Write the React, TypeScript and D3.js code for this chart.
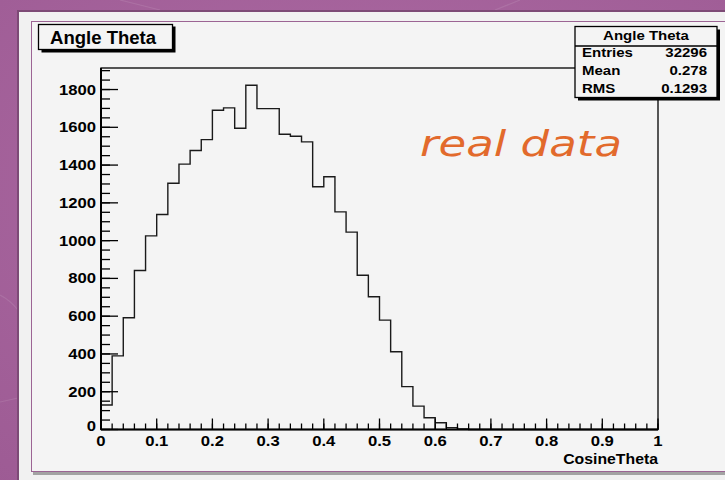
// App.tsx
import React from 'react';
import * as d3 from 'd3';

// histogram bin contents, 50 bins of width 0.02 over [0, 1]
const counts: number[] = [
    130, 390, 592, 842, 1025, 1138, 1304, 1405, 1477, 1535,
    1690, 1703, 1595, 1823, 1699, 1699, 1563, 1553, 1523, 1285,
    1338, 1152, 1045, 817, 703, 579, 412, 227, 124, 62,
    36, 10, 3, 0, 0, 0, 0, 0, 0, 0,
    0, 0, 0, 0, 0, 0, 0, 0, 0, 0,
];
const binWidth = 0.02;

const xTicks: number[] = [0, 0.1, 0.2, 0.3, 0.4, 0.5, 0.6, 0.7, 0.8, 0.9, 1];
const xTickLabels: string[] = ['0', '0.1', '0.2', '0.3', '0.4', '0.5', '0.6', '0.7', '0.8', '0.9', '1'];
const yTicks: number[] = [0, 200, 400, 600, 800, 1000, 1200, 1400, 1600, 1800];

const statLabels: string[] = ['Entries', 'Mean', 'RMS'];
const statValues: string[] = ['32296', '0.278', '0.1293'];

const title = 'Angle Theta';
const xTitle = 'CosineTheta';
const note = 'real data';

const W = 725;
const H = 480;
const frame = { left: 101, right: 658, top: 68, bottom: 429.5 };
const yMax = 1914;
const font = '"Liberation Sans", Arial, Helvetica, sans-serif';

// bold helvetica-like text, optionally stretched horizontally
function T({ x, y, size, sx = 1, anchor = 'start', children }:
    { x: number; y: number; size: number; sx?: number; anchor?: string; children: React.ReactNode }) {
    return (
        <text transform={`translate(${x},${y}) scale(${sx},1)`} fontFamily={font} fontWeight="bold"
            fontSize={size} textAnchor={anchor} fill="#000">{children}</text>
    );
}

export default function App() {
    const x = d3.scaleLinear().domain([0, 1]).range([frame.left, frame.right]);
    const y = d3.scaleLinear().domain([0, yMax]).range([frame.bottom, frame.top]);

    // step outline of the histogram
    const pts: [number, number][] = [[0, 0]];
    counts.forEach((c, i) => {
        pts.push([i * binWidth, c]);
        pts.push([(i + 1) * binWidth, c]);
    });
    pts.push([1, 0]);
    const line = d3.line<[number, number]>().x(d => x(d[0])).y(d => y(d[1]));

    const xMinor = d3.range(0, 1.0001, 0.02);
    const yMinor = d3.range(0, yMax, 50);

    return (
        <svg width={W} height={H} style={{ position: 'absolute', left: 0, top: 0 }}>
            <defs>
                <radialGradient id="bg" cx="0.5" cy="0.4" r="0.8">
                    <stop offset="0" stopColor="#ad6aa3" />
                    <stop offset="1" stopColor="#9d5b94" />
                </radialGradient>
            </defs>
            <rect width={W} height={H} fill="url(#bg)" />
            {/* faint streaks in the backdrop */}
            <g stroke="#ffffff" strokeOpacity={0.1} strokeWidth={1.2} fill="none">
                <path d="M0,295 Q10,300 18,310" />
                <path d="M0,402 Q9,400 18,398" />
                <path d="M120,0 L160,10" />
                <path d="M520,0 L495,10" />
            </g>

            {/* canvas panel */}
            <rect x={17} y={10} width={W} height={H} fill="#7d4a76" />
            <rect x={19} y={12} width={W} height={H} fill="#f1f1f1" />
            {/* pad */}
            <rect x={33} y={24} width={W} height={451} fill="#a3a3a3" />
            <rect x={31.5} y={21.5} width={W} height={450} fill="#f4f4f4" stroke="#9c6494" strokeWidth={1} />

            {/* frame */}
            <rect x={frame.left} y={frame.top} width={frame.right - frame.left} height={frame.bottom - frame.top}
                fill="none" stroke="#000" strokeWidth={1.3} />

            {/* histogram */}
            <path d={line(pts) ?? ''} fill="none" stroke="#1a1a1a" strokeWidth={1.4} />

            {/* x axis */}
            <line x1={frame.left} x2={frame.right} y1={frame.bottom} y2={frame.bottom} stroke="#000" strokeWidth={2} />
            {xMinor.map((v, i) => (
                <line key={'xm' + i} x1={x(v)} x2={x(v)} y1={frame.bottom} y2={frame.bottom - 6} stroke="#000" strokeWidth={1.3} />
            ))}
            {xTicks.map((v, i) => (
                <line key={'xt' + i} x1={x(v)} x2={x(v)} y1={frame.bottom} y2={frame.bottom - 11} stroke="#000" strokeWidth={1.3} />
            ))}
            {xTicks.map((v, i) => (
                <T key={'xl' + i} x={x(v)} y={446} size={14.5} sx={1.15} anchor="middle">{xTickLabels[i]}</T>
            ))}
            <T x={frame.right} y={464} size={14} sx={1.13} anchor="end">{xTitle}</T>

            {/* y axis */}
            <line x1={frame.left} x2={frame.left} y1={frame.bottom} y2={frame.top} stroke="#000" strokeWidth={2} />
            {yMinor.map((v, i) => (
                <line key={'ym' + i} x1={frame.left} x2={frame.left + 9} y1={y(v)} y2={y(v)} stroke="#000" strokeWidth={1.3} />
            ))}
            {yTicks.map((v, i) => (
                <line key={'yt' + i} x1={frame.left} x2={frame.left + 17} y1={y(v)} y2={y(v)} stroke="#000" strokeWidth={1.3} />
            ))}
            {yTicks.map((v, i) => (
                <T key={'yl' + i} x={96} y={v === 0 ? y(v) + 1 : y(v) + 5} size={14.5} sx={1.15} anchor="end">{String(v)}</T>
            ))}

            {/* title box */}
            <rect x={41.5} y={26.5} width={134} height={26} fill="#000" />
            <rect x={38.5} y={24.5} width={134} height={25} fill="#f4f4f4" stroke="#000" strokeWidth={1.3} />
            <T x={50} y={43.5} size={18} sx={1.03}>{title}</T>

            {/* stats box */}
            <rect x={578} y={29.5} width={142} height={71} fill="#000" />
            <rect x={575} y={26.5} width={142} height={71} fill="#f4f4f4" stroke="#000" strokeWidth={1.3} />
            <line x1={575} x2={717} y1={46} y2={46} stroke="#000" strokeWidth={1.3} />
            <T x={646} y={40} size={12} sx={1.25} anchor="middle">{title}</T>
            {statLabels.map((s, i) => (
                <T key={'sl' + i} x={582} y={57 + i * 18.2} size={12} sx={1.25}>{s}</T>
            ))}
            {statValues.map((s, i) => (
                <T key={'sv' + i} x={707} y={57 + i * 18.2} size={12} sx={1.25} anchor="end">{s}</T>
            ))}

            {/* handwritten note */}
            <text x={420} y={156} fontFamily='"DejaVu Sans ExtraLight", "DejaVu Sans", sans-serif' fontStyle="italic"
                fontWeight={200} fontSize={36} fill="#e26a2c" textLength={202} lengthAdjust="spacingAndGlyphs">{note}</text>
        </svg>
    );
}
